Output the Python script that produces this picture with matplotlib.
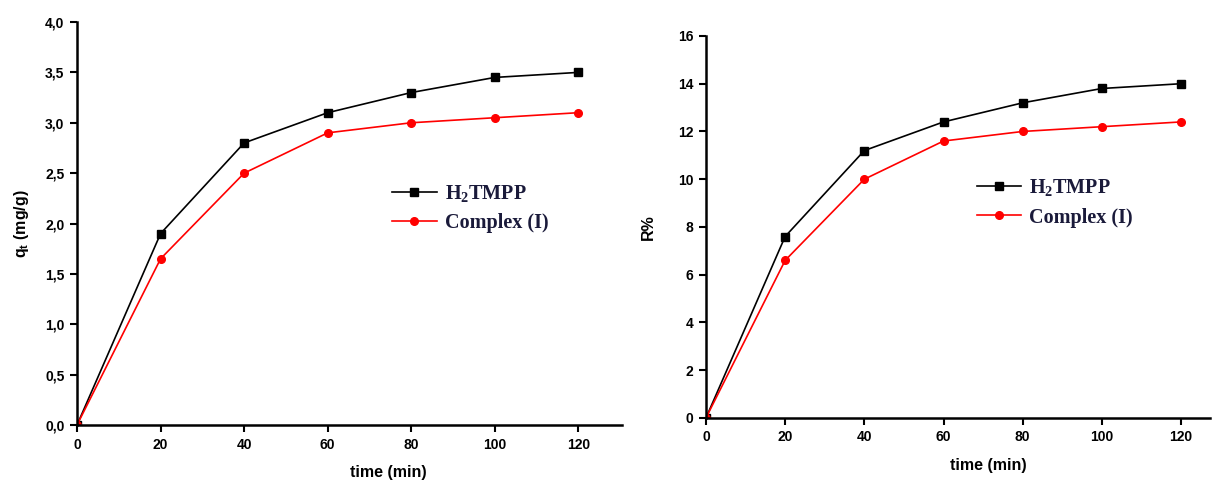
import matplotlib
matplotlib.use("Agg")
import matplotlib.pyplot as plt
from matplotlib.ticker import FuncFormatter

# data
time_min = [0, 20, 40, 60, 80, 100, 120]
qt_h2tmpp = [0, 1.9, 2.8, 3.1, 3.3, 3.45, 3.5]
qt_complex = [0, 1.65, 2.5, 2.9, 3.0, 3.05, 3.1]
r_h2tmpp = [0, 7.6, 11.2, 12.4, 13.2, 13.8, 14.0]
r_complex = [0, 6.6, 10.0, 11.6, 12.0, 12.2, 12.4]
x_ticks = [0, 20, 40, 60, 80, 100, 120]
qt_ticks = [0, 0.5, 1.0, 1.5, 2.0, 2.5, 3.0, 3.5, 4.0]
r_ticks = [0, 2, 4, 6, 8, 10, 12, 14, 16]

plt.rcParams['font.family'] = ['Liberation Sans', 'DejaVu Sans']
plt.rcParams['font.weight'] = 'bold'
plt.rcParams['mathtext.fontset'] = 'custom'
plt.rcParams['mathtext.rm'] = 'Liberation Serif:bold'
plt.rcParams['mathtext.it'] = 'Liberation Sans:bold'

fig = plt.figure(figsize=(12.13, 4.86), dpi=100)
ax1 = fig.add_axes([0.0635, 0.1255, 0.4495, 0.8292])
ax2 = fig.add_axes([0.582, 0.140, 0.4155, 0.786])


def style(ax, xmax, ylim, yticks, fmt, xlab_y):
    for s in ['top', 'right']:
        ax.spines[s].set_visible(False)
    for s in ['left', 'bottom']:
        ax.spines[s].set_linewidth(1.8)
    ax.set_xlim(0, xmax)
    ax.set_ylim(*ylim)
    ax.set_xticks(x_ticks)
    ax.set_yticks(yticks)
    ax.yaxis.set_major_formatter(FuncFormatter(fmt))
    ax.tick_params(direction='out', length=5, width=1.5, labelsize=10, pad=4)
    for lab in ax.get_xticklabels() + ax.get_yticklabels():
        lab.set_fontweight('bold')
    ax.set_xlabel('time (min)', fontsize=11.5, fontweight='bold')
    ax.xaxis.set_label_coords(0.57 if ax is ax1 else 0.56, xlab_y)


def draw(ax, y1, y2, loc):
    l1, = ax.plot(time_min, y1, color='black', marker='s', markersize=5.5, lw=1.2)
    l2, = ax.plot(time_min, y2, color='red', marker='o', markersize=5.5, lw=1.2)
    leg = ax.legend([l1, l2], ['H$\\mathregular{_2}$TMPP', 'Complex (I)'], loc='upper left',
                    bbox_to_anchor=loc, frameon=False, handlelength=2.2,
                    handletextpad=0.4, labelspacing=0.45,
                    prop={'family': 'Liberation Serif', 'weight': 'bold', 'size': 14.5})
    for t in leg.get_texts():
        t.set_color('#1a1a3a')


draw(ax1, qt_h2tmpp, qt_complex, (0.545, 0.645))
style(ax1, 130.5, (0, 4.0), qt_ticks, lambda v, p: f"{v:.1f}".replace('.', ','), -0.10)
ax1.set_ylabel('q$_t$ (mg/g)', fontsize=11.5, fontweight='bold', labelpad=10)

draw(ax2, r_h2tmpp, r_complex, (0.502, 0.677))
style(ax2, 127.3, (0, 16), r_ticks, lambda v, p: f"{v:.0f}", -0.105)
ax2.set_ylabel('R%', fontsize=11.5, fontweight='bold', labelpad=16)

fig.savefig('out.png', dpi=100)
